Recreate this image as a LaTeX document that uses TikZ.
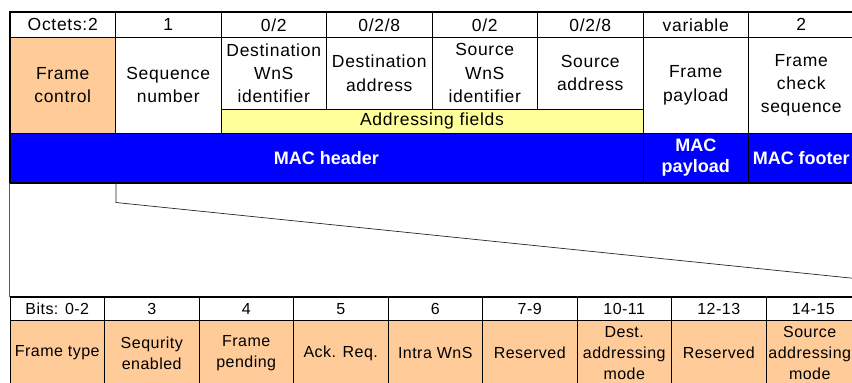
\documentclass[tikz,border=0pt]{standalone}
\usepackage{fontspec}
\setmainfont{Liberation Sans}
\newfontfamily\cellfont[LetterSpace=4]{Liberation Sans}
\newfontfamily\bitfont[LetterSpace=3]{Liberation Sans}
\usetikzlibrary{calc}
\definecolor{fieldorange}{HTML}{FFCC99}
\definecolor{fieldyellow}{HTML}{FFFF99}
\definecolor{macblue}{HTML}{0000FF}
\begin{document}
\begin{tikzpicture}[x=1pt, y=-1pt,
  cell/.style={draw=black, line width=0.8pt, inner sep=0pt, align=center,
    font=\cellfont\fontsize{17.5}{23.3}\selectfont},
  topcell/.style={cell, minimum width=105.5pt},
  bitcell/.style={draw=black, line width=0.8pt, inner sep=0pt, align=center,
    minimum width=94.5pt, font=\bitfont\fontsize{16}{21}\selectfont},
  hdrrow/.style={topcell, minimum height=24.5pt},
  tallcell/.style={topcell, minimum height=96.3pt},
  midcell/.style={topcell, minimum height=72.5pt},
  bluecell/.style={cell, fill=macblue, text=white, minimum height=49.2pt,
    font=\fontsize{18}{21}\selectfont\bfseries},
  bithead/.style={bitcell, minimum height=23.5pt},
  bitbody/.style={bitcell, fill=fieldorange, minimum height=65pt},
  link/.style={draw=black!85, line width=0.7pt},
  frame/.style={draw=black!65, line width=1pt}
]
\useasboundingbox (0,0) rectangle (852,383);
\clip (0,0) rectangle (852,383);

% octet counts
\node[hdrrow] (o1) at (62.75,24.75) {Octets:2};
\node[hdrrow] (o2) at (168.25,24.75) {1};
\node[hdrrow] (o3) at (273.75,24.75) {0/2};
\node[hdrrow] (o4) at (379.25,24.75) {0/2/8};
\node[hdrrow] (o5) at (484.75,24.75) {0/2};
\node[hdrrow] (o6) at (590.25,24.75) {0/2/8};
\node[hdrrow] (o7) at (695.75,24.75) {variable};
\node[hdrrow] (o8) at (801.25,24.75) {2};

% frame fields
\node[tallcell, fill=fieldorange] (fc) at (62.75,85.15) {Frame\\control};
\node[tallcell] (seq) at (168.25,85.15) {Sequence\\number};
\node[midcell] (dwns) at (273.75,73.25) {Destination\\WnS\\identifier};
\node[midcell] (dadr) at (379.25,73.25) {Destination\\address};
\node[midcell] (swns) at (484.75,73.25) {Source\\WnS\\identifier};
\node[midcell] (sadr) at (590.25,73.25) {Source\\address};
\node[cell, fill=fieldyellow, minimum width=422pt, minimum height=23.8pt]
  (addr) at (432,121.4) {Addressing fields};
\node[tallcell] (fp) at (695.75,85.15) {Frame\\payload};
\node[tallcell] (fcs) at (801.25,85.15) {Frame\\check\\sequence};

% MAC parts
\node[bluecell, minimum width=633pt] (hdr) at (326.5,157.9) {MAC header};
\node[bluecell, minimum width=105.5pt] (pay) at (695.75,157.9) {MAC\\payload};
\node[bluecell, minimum width=105.5pt] (foot) at (801.25,157.9) {MAC footer};

% outer border of the frame format
\draw[line width=1.6pt] (o1.north west) rectangle (foot.south east);

% frame control bits
\node[bithead] (h1) at (57.25,308.75) {Bits: 0-2};
\node[bithead] (h2) at (151.75,308.75) {3};
\node[bithead] (h3) at (246.25,308.75) {4};
\node[bithead] (h4) at (340.75,308.75) {5};
\node[bithead] (h5) at (435.25,308.75) {6};
\node[bithead] (h6) at (529.75,308.75) {7-9};
\node[bithead] (h7) at (624.25,308.75) {10-11};
\node[bithead] (h8) at (718.75,308.75) {12-13};
\node[bithead] (h9) at (813.25,308.75) {14-15};

\node[bitbody] (b1) at (57.25,353) {Frame type};
\node[bitbody] (b2) at (151.75,353) {Sequrity\\enabled};
\node[bitbody] (b3) at (246.25,353) {Frame\\pending};
\node[bitbody] (b4) at (340.75,353) {Ack. Req.};
\node[bitbody] (b5) at (435.25,353) {Intra WnS};
\node[bitbody] (b6) at (529.75,353) {Reserved};
\node[bitbody] (b7) at (624.25,353) {Dest.\\addressing\\mode};
\node[bitbody] (b8) at (718.75,353) {Reserved};
\node[bitbody, text width=80pt] (b9) at (813.25,353) {\hspace*{-7pt}Source\\\hspace*{-7pt}addressing\\\hspace*{-7pt}mode};

\draw[line width=1.6pt] (h1.north west) -- (h9.north east);

% expansion of the frame control field
\coordinate (bend) at (fc.south east |- 0,202.5);
\coordinate (farend) at (860,279);
\draw[frame] (hdr.south west) -- (h1.north west);
\draw[link] (fc.south east |- hdr.south) -- (bend) -- (farend);
\end{tikzpicture}
\end{document}
